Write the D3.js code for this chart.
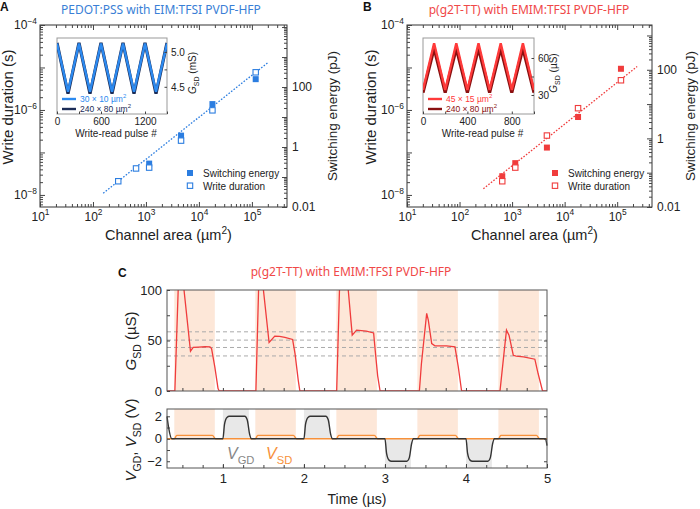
<!DOCTYPE html>
<html>
<head>
<meta charset="utf-8">
<script src="https://cdnjs.cloudflare.com/ajax/libs/d3/7.8.5/d3.min.js"></script>
<style>
    body { margin: 0; background: #fff; }
    svg { font-family: "Liberation Sans", Arial, sans-serif; }
    .axis path { display: none; }
    .axis line { stroke: #444; }
</style>
</head>
<body>
<div id="chart"></div>
<script>
// ---- panel A : PEDOT:PSS ----
var areaA = [300, 650, 1150, 4600, 18000, 118000];
var durA = [2.1e-8, 4.2e-8, 4.4e-8, 1.9e-7, 9.8e-7, 7.7e-6];
var areaEnA = [1150, 4600, 18000, 118000];
var energyA = [0.28, 2.4, 27, 183];
var fitAreaA = [156, 2.0e5];
var fitDurA = [1.1e-8, 1.3e-5];

// inset A
var pulseA = [0, 150, 300, 450, 600, 750, 900, 1050, 1200, 1350, 1500];
var gA30 = [5.12, 4.43, 5.12, 4.43, 5.12, 4.43, 5.12, 4.43, 5.12, 4.43, 5.12];
var gA240 = [5.13, 4.40, 5.13, 4.40, 5.13, 4.40, 5.13, 4.40, 5.13, 4.40, 5.13];

// ---- panel B : p(g2T-TT) ----
var areaB = [650, 1150, 4600, 18000, 118000];
var durB = [2.1e-8, 4.4e-8, 2.5e-7, 1.1e-6, 5.0e-6];
var energyB = [0.079, 0.19, 0.54, 4.2, 107];
var fitAreaB = [284, 2.4e5];
var fitDurB = [1.4e-8, 1.05e-5];

// inset B
var pulseB = [0, 100, 200, 300, 400, 500, 600, 700, 800, 900, 1000];
var gB45 = [34, 71.9, 34, 71.9, 34, 71.9, 34, 71.9, 34, 71.9, 34];
var gB240 = [31.9, 67.9, 31.9, 67.9, 31.9, 67.9, 31.9, 67.9, 31.9, 67.9, 31.9];

// ---- panel C ----
var readStart = [0.4, 1.4, 2.4, 3.4, 4.4];
var readEnd = [0.9, 1.9, 2.9, 3.9, 4.9];
var writeStart = [1.0, 2.0, 3.0, 4.0];
var writeEnd = [1.32, 2.32, 3.32, 4.32];
var writeSign = [1, 1, -1, -1];
var levelLines = [58.6, 50.4, 43.1, 34.7];

var gTime = [0.31, 0.40, 0.407, 0.485, 0.52, 0.60, 0.633, 0.70, 0.78, 0.84, 0.86, 0.90, 0.94, 0.955,
    1.40, 1.407, 1.47, 1.50, 1.57, 1.64, 1.70, 1.765, 1.86, 1.89, 1.93, 1.95,
    2.40, 2.404, 2.47, 2.547, 2.596, 2.65, 2.77, 2.86, 2.88, 2.91, 2.94,
    3.42, 3.425, 3.45, 3.515, 3.535, 3.577, 3.617, 3.76, 3.864, 3.905, 3.946,
    4.41, 4.42, 4.47, 4.50, 4.531, 4.584, 4.62, 4.71, 4.85, 4.89, 4.945, 5.0];
var gSD = [0, 0, 0, 190, 100, 39.4, 43.1, 43.5, 43.8, 43.7, 42, 23.8, 2.4, 0,
    0, 0, 190, 100, 48, 54.3, 54, 53, 51, 37, 10.6, 0,
    0, 0, 190, 100, 55.3, 60.3, 59.3, 57.5, 40, 15, 0,
    0, 0, 27, 76.9, 70.2, 47, 44.7, 44.7, 43.7, 23.8, 0,
    0, 0, 38, 60.3, 55.3, 35.4, 34.5, 33.8, 31.5, 17.3, 0, 0];

var vTime = [0.31, 0.33, 0.37, 1.0, 1.02, 1.05, 1.08, 1.27, 1.30, 1.33, 1.35,
    2.0, 2.02, 2.05, 2.08, 2.27, 2.30, 2.33, 2.35,
    3.0, 3.02, 3.05, 3.08, 3.27, 3.30, 3.33, 3.35,
    4.0, 4.02, 4.05, 4.08, 4.27, 4.30, 4.33, 4.35, 4.98, 5.0];
var vGD = [2, 1, 0, 0, 1.3, 1.9, 2.0, 2.0, 1.7, 0.4, 0,
    0, 1.3, 1.9, 2.0, 2.0, 1.7, 0.4, 0,
    0, -1.3, -1.9, -2.0, -2.0, -1.7, -0.4, 0,
    0, -1.3, -1.9, -2.0, -2.0, -1.7, -0.4, 0, 0, -0.6];

var sdTime = [0.31, 0.40, 0.43, 0.87, 0.91, 1.40, 1.43, 1.87, 1.91, 2.40, 2.43, 2.87, 2.91,
    3.40, 3.43, 3.87, 3.91, 4.40, 4.43, 4.87, 4.91, 5.0];
var vSD = [0, 0, 0.3, 0.3, 0, 0, 0.3, 0.3, 0, 0, 0.3, 0.3, 0,
    0, 0.3, 0.3, 0, 0, 0.3, 0.3, 0, 0];

var blue = "#2b7de0", navy = "#1b2c57", red = "#f03c3c", darkRed = "#8a1010";

var svg = d3.select("#chart").append("svg")
    .attr("width", 700)
    .attr("height", 509);

// text with sub/superscripts: parts = [text, "sup"|"sub"|"", "i"]
function rich(t, size, parts) {
    var shift = 0;
    parts.forEach(function (p) {
        var s = t.append("tspan").text(p[0]);
        var want = p[1] === "sup" ? -0.42 * size : p[1] === "sub" ? 0.3 * size : 0;
        if (want - shift !== 0) s.attr("dy", want - shift);
        shift = want;
        if (p[1] === "sup" || p[1] === "sub") s.attr("font-size", 0.7 * size);
        if (p[2] === "i") s.attr("font-style", "italic");
    });
}

function isPow(d) {
    var l = Math.log10(d);
    return Math.abs(l - Math.round(l)) < 1e-9;
}

function logAxis(g, axisFn, scale, transform, labelMode) {
    var all = scale.ticks();
    var major = all.filter(isPow);
    var minor = all.filter(function (d) { return !isPow(d); });
    g.append("g").attr("class", "axis").attr("transform", transform)
        .call(axisFn(scale).tickValues(minor).tickSize(-3).tickFormat(""));
    var a = g.append("g").attr("class", "axis").attr("transform", transform)
        .call(axisFn(scale).tickValues(major).tickSize(-5).tickPadding(labelMode === "even" ? 3 : 5));
    a.attr("font-size", 12).attr("font-family", null);
    a.selectAll("text").attr("fill", "#222").each(function (d) {
        var t = d3.select(this);
        var e = Math.round(Math.log10(d));
        if (labelMode === "none") { t.remove(); return; }
        if (labelMode === "even" && e % 2 !== 0) { t.remove(); return; }
        if (labelMode === "evenNum") {
            if (e % 2 !== 0 || e > 2) { t.remove(); return; }
            t.text(d3.format("~g")(d));
            return;
        }
        t.text("");
        rich(t, 12, [["10", ""], [e < 0 ? "\u2212" + (-e) : "" + e, "sup"]]);
    });
    return a;
}

function scatterPanel(o) {
    var g = svg.append("g");
    var x = d3.scaleLog().domain([10, 4.6e5]).range([o.x0, o.x1]);
    var yL = d3.scaleLog().domain([5.2e-9, 1e-4]).range([207, 25]);
    var yR = d3.scaleLog().domain([0.01, o.eTop]).range([207, 25]);

    g.append("rect")
        .attr("x", o.x0).attr("y", 25)
        .attr("width", o.x1 - o.x0).attr("height", 182)
        .attr("fill", "none").attr("stroke", "#333");

    logAxis(g, d3.axisBottom, x, "translate(0,207)", "all");
    logAxis(g, d3.axisTop, x, "translate(0,25)", "none");
    logAxis(g, d3.axisLeft, yL, "translate(" + o.x0 + ",0)", "even");
    logAxis(g, d3.axisRight, yR, "translate(" + o.x1 + ",0)", "evenNum");

    // fit line
    g.append("path")
        .datum(d3.zip(o.fitX, o.fitY))
        .attr("d", d3.line().x(function (d) { return x(d[0]); }).y(function (d) { return yL(d[1]); }))
        .attr("fill", "none")
        .attr("stroke", o.color)
        .attr("stroke-width", 1.3)
        .attr("stroke-dasharray", "1.6 1.6");

    // switching energy (filled)
    g.selectAll(".en").data(d3.zip(o.enX, o.en)).enter().append("rect")
        .attr("x", function (d) { return x(d[0]) - 3; })
        .attr("y", function (d) { return yR(d[1]) - 3; })
        .attr("width", 6).attr("height", 6)
        .attr("fill", o.color);

    // write duration (open)
    g.selectAll(".du").data(d3.zip(o.durX, o.dur)).enter().append("rect")
        .attr("x", function (d) { return x(d[0]) - 2.7; })
        .attr("y", function (d) { return yL(d[1]) - 2.7; })
        .attr("width", 5.4).attr("height", 5.4)
        .attr("fill", "#fff").attr("stroke", o.color).attr("stroke-width", 1.1);

    // legend
    var lx = o.legX;
    g.append("rect").attr("x", lx - 3).attr("y", 170).attr("width", 6).attr("height", 6).attr("fill", o.color);
    g.append("rect").attr("x", lx - 2.7).attr("y", 183).attr("width", 5.4).attr("height", 5.4)
        .attr("fill", "#fff").attr("stroke", o.color).attr("stroke-width", 1.1);
    g.append("text").attr("x", lx + 13).attr("y", 177).attr("font-size", 10).attr("fill", "#222").text("Switching energy");
    g.append("text").attr("x", lx + 13).attr("y", 189.5).attr("font-size", 10).attr("fill", "#222").text("Write duration");

    // axis titles
    g.append("text")
        .attr("transform", "translate(" + o.leftLab + ",107) rotate(-90)")
        .attr("text-anchor", "middle").attr("font-size", 15).attr("fill", "#222")
        .text("Write duration (s)");
    g.append("text")
        .attr("transform", "translate(" + o.rightLab + ",116) rotate(-90)")
        .attr("text-anchor", "middle").attr("font-size", 13.5).attr("fill", "#222")
        .text("Switching energy (pJ)");
    var xl = g.append("text")
        .attr("x", (o.x0 + o.x1) / 2 + 5).attr("y", 240)
        .attr("text-anchor", "middle").attr("font-size", 14.5).attr("fill", "#222");
    rich(xl, 14.5, [["Channel area (\u00b5m", ""], ["2", "sup"], [")", ""]]);

    // panel letter and title
    g.append("text").attr("x", o.letterX).attr("y", 11).attr("font-weight", "bold")
        .attr("font-size", 12).attr("fill", "#111").text(o.letter);
    g.append("text").attr("x", o.titleX).attr("y", 14).attr("text-anchor", "middle")
        .attr("font-family", "'Noto Sans', sans-serif").attr("font-size", 12)
        .attr("fill", o.titleColor).text(o.title);
}

function inset(o) {
    var g = svg.append("g");
    var x = d3.scaleLinear().domain(o.xDom).range([o.x0, o.x1]);
    var y = d3.scaleLinear().domain(o.yDom).range([114, 38]);
    g.append("rect").attr("x", o.x0).attr("y", 38).attr("width", o.x1 - o.x0).attr("height", 76)
        .attr("fill", "#fff").attr("stroke", "#999");

    var clip = g.append("clipPath").attr("id", "clip" + o.id);
    clip.append("rect").attr("x", o.x0).attr("y", 38).attr("width", o.x1 - o.x0).attr("height", 76);

    var line = d3.line().x(function (d) { return x(d[0]); }).y(function (d) { return y(d[1]); });
    g.append("path").datum(d3.zip(o.px, o.s2)).attr("d", line).attr("clip-path", "url(#clip" + o.id + ")")
        .attr("fill", "none").attr("stroke", o.c2).attr("stroke-width", 3.2).attr("stroke-linejoin", "miter");
    g.append("path").datum(d3.zip(o.px, o.s1)).attr("d", line).attr("clip-path", "url(#clip" + o.id + ")")
        .attr("fill", "none").attr("stroke", o.c1).attr("stroke-width", 2.4).attr("stroke-linejoin", "miter");

    var ax = g.append("g").attr("class", "axis").attr("transform", "translate(0,114)")
        .call(d3.axisBottom(x).tickValues(o.xTicks).tickSize(-2.5).tickPadding(4)
            .tickFormat(function (d) { return o.xLabels.indexOf(d) >= 0 ? d : ""; }));
    ax.attr("font-size", 10).attr("font-family", null);
    ax.selectAll("text").attr("fill", "#222");
    var ay = g.append("g").attr("class", "axis").attr("transform", "translate(" + o.x1 + ",0)")
        .call(d3.axisRight(y).tickValues(o.yTicks).tickSize(-2.5).tickPadding(4)
            .tickFormat(function (d) { return o.yLabels.indexOf(d) >= 0 ? o.yFmt(d) : ""; }));
    ay.attr("font-size", 10).attr("font-family", null);
    ay.selectAll("text").attr("fill", "#222");

    g.append("text").attr("x", (o.x0 + o.x1) / 2 + 4).attr("y", 137).attr("text-anchor", "middle")
        .attr("font-size", 10).attr("fill", "#222").text("Write-read pulse #");
    var yl = g.append("text").attr("transform", "translate(" + o.yLabX + ",73) rotate(-90)")
        .attr("text-anchor", "middle").attr("font-size", 10).attr("fill", "#222");
    rich(yl, 10, [["G", "", "i"], ["SD", "sub"], [" (" + o.unit + ")", ""]]);

    // legend
    [[o.c1, o.l1, 99], [o.c2, o.l2, 109]].forEach(function (l) {
        g.append("line").attr("x1", o.x0 + 5).attr("x2", o.x0 + 19).attr("y1", l[2]).attr("y2", l[2])
            .attr("stroke", l[0]).attr("stroke-width", 2.4);
        var t = g.append("text").attr("x", o.x0 + 23).attr("y", l[2] + 3).attr("font-size", 8.5).attr("fill", l[0]);
        rich(t, 8.5, [[l[1], ""], ["2", "sup"]]);
    });
}

// ---------- panel A ----------
scatterPanel({
    x0: 40, x1: 287, eTop: 1.17e4, color: blue,
    fitX: fitAreaA, fitY: fitDurA, enX: areaEnA, en: energyA, durX: areaA, dur: durA,
    legX: 190, leftLab: 13, rightLab: 337,
    letter: "A", letterX: 0, title: "PEDOT:PSS with EIM:TFSI PVDF-HFP", titleX: 161, titleColor: "#3a7fd6"
});
inset({
    id: "a", x0: 57, x1: 167, xDom: [0, 1500], yDom: [4.11, 5.2],
    px: pulseA, s1: gA30, s2: gA240, c1: "#2c8af0", c2: navy,
    xTicks: [0, 300, 600, 900, 1200, 1500], xLabels: [0, 600, 1200],
    yTicks: [4.5, 4.75, 5.0], yLabels: [4.5, 5.0], yFmt: d3.format(".1f"),
    yLabX: 196, unit: "mS", l1: "30 \u00d7 10 \u00b5m", l2: "240 \u00d7 80 \u00b5m"
});

// ---------- panel B ----------
scatterPanel({
    x0: 407, x1: 652, eTop: 2020, color: red,
    fitX: fitAreaB, fitY: fitDurB, enX: areaB, en: energyB, durX: areaB, dur: durB,
    legX: 555, leftLab: 376, rightLab: 695,
    letter: "B", letterX: 363, title: "p(g2T-TT) with EMIM:TFSI PVDF-HFP", titleX: 529, titleColor: "#f04848"
});
inset({
    id: "b", x0: 423, x1: 534, xDom: [0, 1000], yDom: [14.6, 76.2],
    px: pulseB, s1: gB45, s2: gB240, c1: "#ff3a3a", c2: darkRed,
    xTicks: [0, 200, 400, 600, 800, 1000], xLabels: [0, 400, 800],
    yTicks: [30, 45, 60], yLabels: [30, 60], yFmt: d3.format("d"),
    yLabX: 557, unit: "\u00b5S", l1: "45 \u00d7 15 \u00b5m", l2: "240 \u00d7 80 \u00b5m"
});

// ---------- panel C ----------
var gc = svg.append("g");
var xC = d3.scaleLinear().domain([0.31, 5]).range([167, 547]);
var yG = d3.scaleLinear().domain([0, 100]).range([391, 290]);
var yV = d3.scaleLinear().domain([-2.6, 2.65]).range([468, 409]);

gc.append("text").attr("x", 118).attr("y", 277).attr("font-weight", "bold")
    .attr("font-size", 12).attr("fill", "#111").text("C");
gc.append("text").attr("x", 351).attr("y", 276).attr("text-anchor", "middle")
    .attr("font-family", "'Noto Sans', sans-serif").attr("font-size", 12)
    .attr("fill", "#f04848").text("p(g2T-TT) with EMIM:TFSI PVDF-HFP");

// shading
readStart.forEach(function (s, i) {
    gc.append("rect").attr("x", xC(s)).attr("y", 290).attr("width", xC(readEnd[i]) - xC(s)).attr("height", 101)
        .attr("fill", "#fde7d8");
    gc.append("rect").attr("x", xC(s)).attr("y", 409).attr("width", xC(readEnd[i]) - xC(s)).attr("height", yV(0) - 409)
        .attr("fill", "#fde7d8");
});
writeStart.forEach(function (s, i) {
    var top = writeSign[i] > 0 ? 409 : yV(0);
    var bot = writeSign[i] > 0 ? yV(0) : 468;
    gc.append("rect").attr("x", xC(s)).attr("y", top).attr("width", xC(writeEnd[i]) - xC(s)).attr("height", bot - top)
        .attr("fill", "#e8e8e8");
});

// dashed level lines
gc.selectAll(".lvl").data(levelLines).enter().append("line")
    .attr("x1", 167).attr("x2", 547)
    .attr("y1", function (d) { return yG(d); }).attr("y2", function (d) { return yG(d); })
    .attr("stroke", "#aaa").attr("stroke-width", 1).attr("stroke-dasharray", "4 3");

gc.append("clipPath").attr("id", "clipG").append("rect")
    .attr("x", 167).attr("y", 290).attr("width", 380).attr("height", 101);

gc.append("path")
    .datum(d3.zip(gTime, gSD))
    .attr("d", d3.line().x(function (d) { return xC(d[0]); }).y(function (d) { return yG(d[1]); }))
    .attr("clip-path", "url(#clipG)")
    .attr("fill", "none").attr("stroke", red).attr("stroke-width", 1.3);

var vLine = d3.line().curve(d3.curveMonotoneX)
    .x(function (d) { return xC(d[0]); }).y(function (d) { return yV(d[1]); });
gc.append("path").datum(d3.zip(sdTime, vSD)).attr("d", vLine)
    .attr("fill", "none").attr("stroke", "#f7913a").attr("stroke-width", 1.4);
gc.append("path").datum(d3.zip(vTime, vGD)).attr("d", vLine)
    .attr("fill", "none").attr("stroke", "#333").attr("stroke-width", 1.4);

// frames
gc.append("rect").attr("x", 167).attr("y", 290).attr("width", 380).attr("height", 101)
    .attr("fill", "none").attr("stroke", "#555");
gc.append("rect").attr("x", 167).attr("y", 409).attr("width", 380).attr("height", 59)
    .attr("fill", "none").attr("stroke", "#555");

var tq = d3.range(0.5, 5, 0.25);
function cAxis(sel, size) {
    sel.attr("font-size", size).attr("font-family", null);
    sel.selectAll("text").attr("fill", "#222");
    return sel;
}

gc.append("g").attr("class", "axis").attr("transform", "translate(0,391)")
    .call(d3.axisBottom(xC).tickValues(tq).tickSize(-3).tickFormat(""));
gc.append("g").attr("class", "axis").attr("transform", "translate(0,468)")
    .call(d3.axisBottom(xC).tickValues(tq).tickSize(-3).tickFormat(""));
cAxis(gc.append("g").attr("class", "axis").attr("transform", "translate(0,468)")
    .call(d3.axisBottom(xC).tickValues([1, 2, 3, 4, 5]).tickSize(-4).tickPadding(6).tickFormat(d3.format("d"))), 13);

cAxis(gc.append("g").attr("class", "axis").attr("transform", "translate(167,0)")
    .call(d3.axisLeft(yG).tickValues([0, 25, 50, 75, 100]).tickSize(-3).tickPadding(5)
        .tickFormat(function (d) { return d % 50 === 0 ? d : ""; })), 13);
gc.append("g").attr("class", "axis").attr("transform", "translate(547,0)")
    .call(d3.axisRight(yG).tickValues([25, 50, 75]).tickSize(-3).tickFormat(""));

cAxis(gc.append("g").attr("class", "axis").attr("transform", "translate(167,0)")
    .call(d3.axisLeft(yV).tickValues([-2, -1, 0, 1, 2]).tickSize(-3).tickPadding(5)
        .tickFormat(function (d) { return d % 2 === 0 ? (d < 0 ? "\u2212" + (-d) : d) : ""; })), 13);
gc.append("g").attr("class", "axis").attr("transform", "translate(547,0)")
    .call(d3.axisRight(yV).tickValues([-2, 0, 2]).tickSize(-3).tickFormat(""));

var gl = gc.append("text").attr("transform", "translate(136,341) rotate(-90)")
    .attr("text-anchor", "middle").attr("font-size", 15).attr("fill", "#222");
rich(gl, 15, [["G", "", "i"], ["SD", "sub"], [" (\u00b5S)", ""]]);
var vl = gc.append("text").attr("transform", "translate(136,440) rotate(-90)")
    .attr("text-anchor", "middle").attr("font-size", 15).attr("fill", "#222");
rich(vl, 15, [["V", "", "i"], ["GD", "sub"], [", ", ""], ["V", "", "i"], ["SD", "sub"], [" (V)", ""]]);

gc.append("text").attr("x", 357).attr("y", 504).attr("text-anchor", "middle")
    .attr("font-size", 14).attr("fill", "#222").text("Time (\u00b5s)");

var tgd = gc.append("text").attr("x", 227).attr("y", 459).attr("font-size", 16).attr("fill", "#888");
rich(tgd, 16, [["V", "", "i"], ["GD", "sub"]]);
var tsd = gc.append("text").attr("x", 266).attr("y", 459).attr("font-size", 16).attr("fill", "#f7913a");
rich(tsd, 16, [["V", "", "i"], ["SD", "sub"]]);
</script>
</body>
</html>
